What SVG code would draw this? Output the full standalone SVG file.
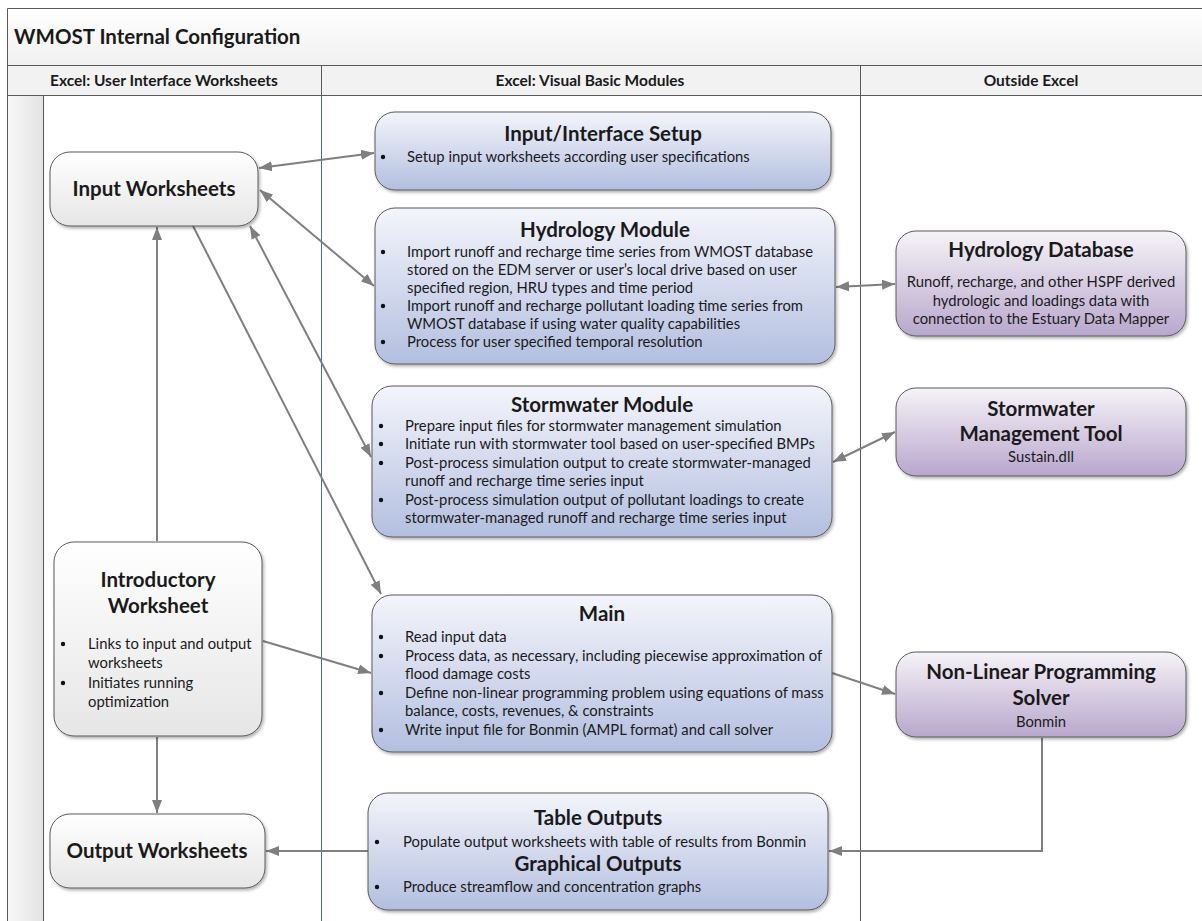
<svg xmlns="http://www.w3.org/2000/svg" width="1202" height="921" viewBox="0 0 1202 921">
<style>
text{font-family:Lato,"Liberation Sans",Arial,sans-serif;fill:#1a1a1a}
.t{font-size:14.8px}
.h1{font-size:20.5px;font-weight:bold}
.h2{font-size:20.5px;font-weight:bold}
.hd{font-size:15.5px;font-weight:bold}
.c{text-anchor:middle}
.frame{fill:none;stroke:#595959;stroke-width:1}
.nl{fill:url(#gLeft);stroke:#5a5a5a;stroke-width:1;filter:url(#sh)}
.nm{fill:url(#gMid);stroke:#5a5a5a;stroke-width:1;filter:url(#sh)}
.nr{fill:url(#gRight);stroke:#5a5a5a;stroke-width:1;filter:url(#sh)}
.dot{fill:#111}
.cn{fill:none;stroke:#7f7f7f;stroke-width:2}
.e{marker-end:url(#ah)}
.d{marker-start:url(#ah);marker-end:url(#ah)}
</style>
<defs>
<linearGradient id="gLeft" x1="0" y1="0" x2="0" y2="1"><stop offset="0" stop-color="#ffffff"/><stop offset="1" stop-color="#e6e6e6"/></linearGradient>
<linearGradient id="gMid" x1="0" y1="0" x2="0" y2="1"><stop offset="0" stop-color="#f4f5fb"/><stop offset="1" stop-color="#b3bfe0"/></linearGradient>
<linearGradient id="gRight" x1="0" y1="0" x2="0" y2="1"><stop offset="0" stop-color="#f6f3f8"/><stop offset="1" stop-color="#b8a7cc"/></linearGradient>
<linearGradient id="gTitle" x1="0" y1="0" x2="0" y2="1"><stop offset="0" stop-color="#ffffff"/><stop offset="1" stop-color="#f0f0f0"/></linearGradient>
<linearGradient id="gStrip" x1="0" y1="0" x2="1" y2="0"><stop offset="0" stop-color="#f8f8f8"/><stop offset="1" stop-color="#e3e3e3"/></linearGradient>
<filter id="sh" x="-10%" y="-10%" width="120%" height="130%"><feDropShadow dx="1.5" dy="2" stdDeviation="1.5" flood-color="#000" flood-opacity="0.3"/></filter>
<marker id="ah" markerUnits="userSpaceOnUse" markerWidth="14" markerHeight="11" refX="13" refY="5.5" orient="auto-start-reverse"><path d="M0,0.5 L13,5.5 L0,10.5 z" fill="#7f7f7f"/></marker>
</defs>

<g id="pool">
<rect x="7.5" y="8.5" width="1200" height="57" fill="url(#gTitle)"/>
<rect x="7.5" y="65.5" width="1200" height="30" fill="#f2f2f2"/>
<rect x="7.5" y="95.5" width="36" height="830" fill="url(#gStrip)"/>
<path class="frame" d="M1202,8.5 H7.5 V925 M7.5,65.5 H1202 M7.5,95.5 H1202 M43.5,95.5 V925 M321.5,65.5 V95.5 M860.5,65.5 V925"/>
<path d="M321.5,95.5 V925" fill="none" stroke="#4a6aa5" stroke-width="1"/>
<text x="14" y="44" class="h2">WMOST Internal Configuration</text>
<text x="164" y="86" class="hd c">Excel: User Interface Worksheets</text>
<text x="590" y="86" class="hd c">Excel: Visual Basic Modules</text>
<text x="1031" y="86" class="hd c">Outside Excel</text>
</g>

<g id="connectors">
<line class="cn d" x1="259" y1="168" x2="374" y2="153"/>
<line class="cn d" x1="260" y1="190" x2="374" y2="286"/>
<line class="cn d" x1="250" y1="226" x2="371" y2="457"/>
<line class="cn e" x1="193" y1="226" x2="381" y2="594"/>
<line class="cn e" x1="157" y1="541" x2="157" y2="227"/>
<line class="cn e" x1="157" y1="737" x2="157" y2="813"/>
<line class="cn e" x1="263" y1="641" x2="371" y2="673"/>
<line class="cn e" x1="368" y1="851" x2="266" y2="851"/>
<line class="cn d" x1="836" y1="287" x2="895" y2="284"/>
<line class="cn d" x1="833" y1="462" x2="895" y2="432"/>
<line class="cn e" x1="832" y1="673" x2="895" y2="694"/>
<polyline class="cn e" points="1042,738 1042,851 829,851"/>
</g>

<g id="input-worksheets">
<rect class="nl" x="50" y="152" width="208" height="74" rx="20"/>
<text x="154" y="196" class="h2 c">Input Worksheets</text>
</g>

<g id="introductory-worksheet">
<rect class="nl" x="54" y="542" width="208" height="194" rx="20"/>
<text x="158" y="587" class="h1 c">Introductory</text>
<text x="158" y="613" class="h1 c">Worksheet</text>
<circle class="dot" cx="63" cy="644" r="2.2"/>
<text x="88" y="649" class="t">Links to input and output</text>
<text x="88" y="668" class="t">worksheets</text>
<circle class="dot" cx="63" cy="683" r="2.2"/>
<text x="88" y="688" class="t">Initiates running</text>
<text x="88" y="707" class="t">optimization</text>
</g>

<g id="output-worksheets">
<rect class="nl" x="50" y="814" width="215" height="74" rx="20"/>
<text x="157" y="858" class="h2 c">Output Worksheets</text>
</g>

<g id="input-interface-setup">
<rect class="nm" x="375" y="112" width="456" height="78" rx="20"/>
<text x="603" y="141" class="h1 c">Input/Interface Setup</text>
<circle class="dot" cx="383" cy="157" r="2.2"/>
<text x="407" y="162" class="t">Setup input worksheets according user specifications</text>
</g>

<g id="hydrology-module">
<rect class="nm" x="375" y="208" width="460" height="156" rx="20"/>
<text x="605" y="237" class="h1 c">Hydrology Module</text>
<circle class="dot" cx="383" cy="252" r="2.2"/>
<text x="407" y="257" class="t">Import runoff and recharge time series from WMOST database</text>
<text x="407" y="275" class="t">stored on the EDM server or user’s local drive based on user</text>
<text x="407" y="293" class="t">specified region, HRU types and time period</text>
<circle class="dot" cx="383" cy="306" r="2.2"/>
<text x="407" y="311" class="t">Import runoff and recharge pollutant loading time series from</text>
<text x="407" y="329" class="t">WMOST database if using water quality capabilities</text>
<circle class="dot" cx="383" cy="342" r="2.2"/>
<text x="407" y="347" class="t">Process for user specified temporal resolution</text>
</g>

<g id="stormwater-module">
<rect class="nm" x="372" y="386" width="460" height="151" rx="20"/>
<text x="602" y="412" class="h1 c">Stormwater Module</text>
<circle class="dot" cx="381" cy="426" r="2.2"/>
<text x="405" y="431" class="t">Prepare input files for stormwater management simulation</text>
<circle class="dot" cx="381" cy="444" r="2.2"/>
<text x="405" y="449" class="t">Initiate run with stormwater tool based on user-specified BMPs</text>
<circle class="dot" cx="381" cy="463" r="2.2"/>
<text x="405" y="468" class="t">Post-process simulation output to create stormwater-managed</text>
<text x="405" y="486" class="t">runoff and recharge time series input</text>
<circle class="dot" cx="381" cy="500" r="2.2"/>
<text x="405" y="505" class="t">Post-process simulation output of pollutant loadings to create</text>
<text x="405" y="523" class="t">stormwater-managed runoff and recharge time series input</text>
</g>

<g id="main">
<rect class="nm" x="372" y="595" width="460" height="157" rx="20"/>
<text x="602" y="621" class="h1 c">Main</text>
<circle class="dot" cx="381" cy="637" r="2.2"/>
<text x="405" y="642" class="t">Read input data</text>
<circle class="dot" cx="381" cy="656" r="2.2"/>
<text x="405" y="661" class="t">Process data, as necessary, including piecewise approximation of</text>
<text x="405" y="679" class="t">flood damage costs</text>
<circle class="dot" cx="381" cy="693" r="2.2"/>
<text x="405" y="698" class="t">Define non-linear programming problem using equations of mass</text>
<text x="405" y="716" class="t">balance, costs, revenues, &amp; constraints</text>
<circle class="dot" cx="381" cy="730" r="2.2"/>
<text x="405" y="735" class="t">Write input file for Bonmin (AMPL format) and call solver</text>
</g>

<g id="outputs">
<rect class="nm" x="368" y="793" width="460" height="117" rx="20"/>
<text x="598" y="825" class="h1 c">Table Outputs</text>
<circle class="dot" cx="377" cy="842" r="2.2"/>
<text x="403" y="847" class="t">Populate output worksheets with table of results from Bonmin</text>
<text x="598" y="871" class="h1 c">Graphical Outputs</text>
<circle class="dot" cx="377" cy="887" r="2.2"/>
<text x="403" y="892" class="t">Produce streamflow and concentration graphs</text>
</g>

<g id="hydrology-database">
<rect class="nr" x="896" y="231" width="290" height="105" rx="20"/>
<text x="1041" y="257" class="h1 c">Hydrology Database</text>
<text x="1041" y="287" class="t c">Runoff, recharge, and other HSPF derived</text>
<text x="1041" y="306" class="t c">hydrologic and loadings data with</text>
<text x="1041" y="324" class="t c">connection to the Estuary Data Mapper</text>
</g>

<g id="stormwater-management-tool">
<rect class="nr" x="896" y="388" width="290" height="88" rx="20"/>
<text x="1041" y="416" class="h1 c">Stormwater</text>
<text x="1041" y="441" class="h1 c">Management Tool</text>
<text x="1041" y="462" class="t c">Sustain.dll</text>
</g>

<g id="nlp-solver">
<rect class="nr" x="896" y="652" width="290" height="85" rx="20"/>
<text x="1041" y="679" class="h1 c">Non-Linear Programming</text>
<text x="1041" y="705" class="h1 c">Solver</text>
<text x="1041" y="727" class="t c">Bonmin</text>
</g>
</svg>
